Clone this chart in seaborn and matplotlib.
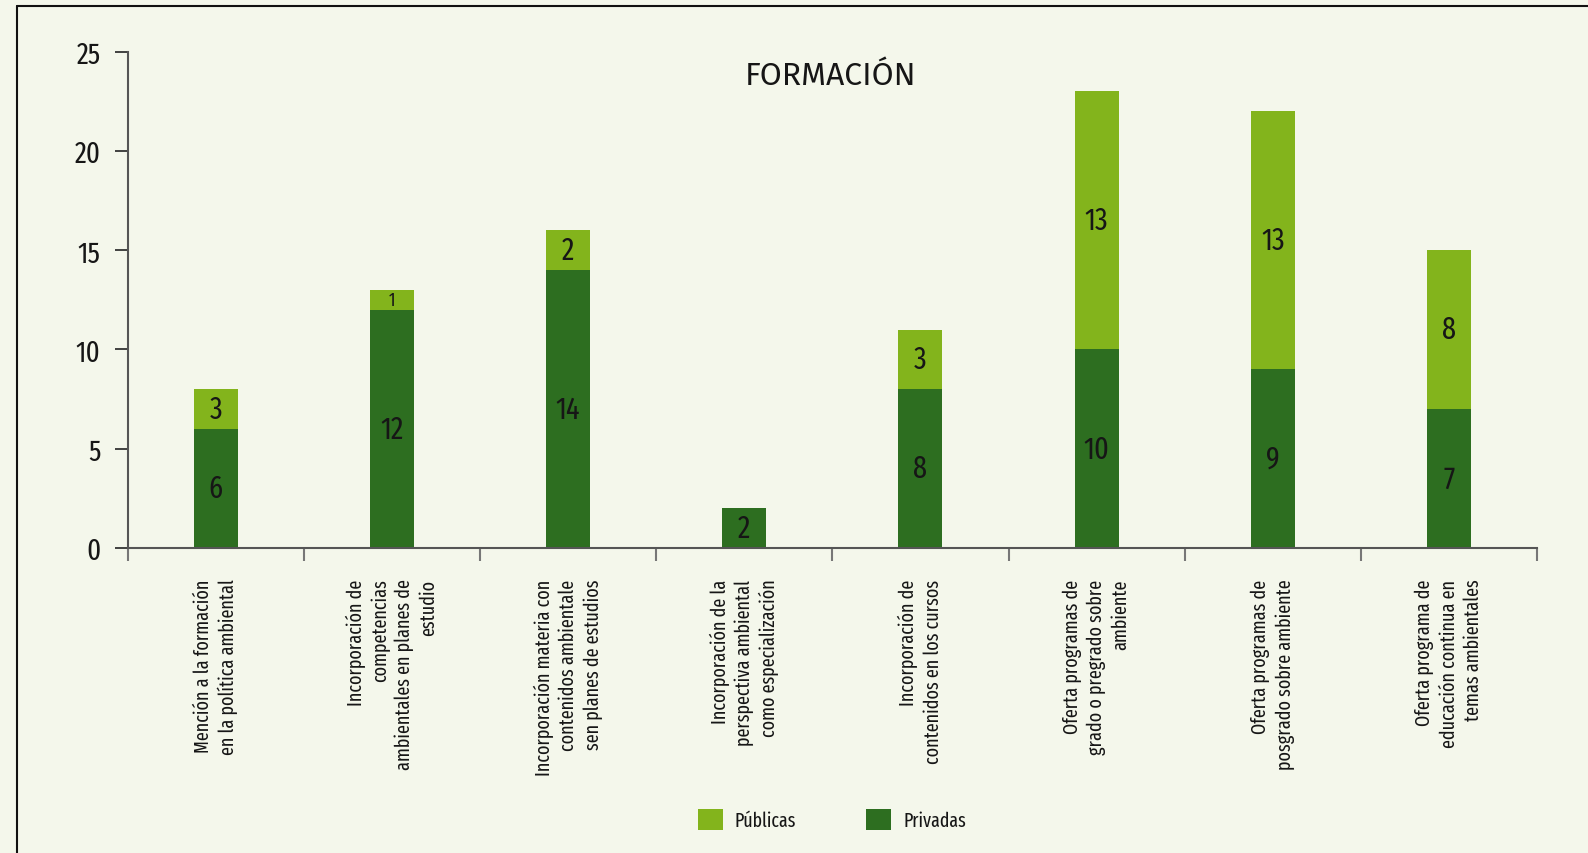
import matplotlib
matplotlib.use("Agg")
import matplotlib.pyplot as plt
import seaborn as sns
import pandas as pd
from matplotlib.patches import Patch
from matplotlib.lines import Line2D

categories = [
    "Mención a la formación\nen la política ambiental",
    "Incorporación de\ncompetencias\nambientales en planes de\nestudio",
    "Incorporación materia con\ncontenidos ambientale\nsen planes de estudios",
    "Incorporación de la\nperspectiva ambiental\ncomo especialización",
    "Incorporación de\ncontenidos en los cursos",
    "Oferta programas de\ngrado o pregrado sobre\nambiente",
    "Oferta programas de\nposgrado sobre ambiente",
    "Oferta programa de\neducación continua en\ntemas ambientales",
]
privadas = [6, 12, 14, 2, 8, 10, 9, 7]
publicas = [2, 1, 2, 0, 3, 13, 13, 8]          # drawn heights
publicas_labels = ["3", "1", "2", "", "3", "13", "13", "8"]
privadas_labels = ["6", "12", "14", "2", "8", "10", "9", "7"]
yticks = [0, 5, 10, 15, 20, 25]

BG = "#f4f7eb"
DARK = "#2d6e20"
LIGHT = "#83b41c"
TXT = "#161616"
COND = ["Fira Sans Extra Condensed", "Fira Sans Condensed", "DejaVu Sans"]

sns.set_theme(style="white")
plt.rcParams["font.family"] = COND

df = pd.DataFrame({
    "cat": categories,
    "priv": privadas,
    "total": [a + b for a, b in zip(privadas, publicas)],
})

fig = plt.figure(figsize=(15.88, 8.54), dpi=100, facecolor=BG)
ax = fig.add_axes([127.7 / 1588, 1 - 549 / 854, (1537 - 127.7) / 1588, (549 - 52.7) / 854])
ax.set_facecolor(BG)

sns.barplot(data=df, x="cat", y="total", color=LIGHT, width=0.25, ax=ax,
            saturation=1, linewidth=0)
sns.barplot(data=df, x="cat", y="priv", color=DARK, width=0.25, ax=ax,
            saturation=1, linewidth=0)

ax.set_xlim(-0.5, 7.5)
ax.set_ylim(0, 25)
ax.set_yticks(yticks)
ax.set_yticklabels([str(v) for v in yticks], fontsize=21, color=TXT)
ax.set_xlabel("")
ax.set_ylabel("")

for s in ["top", "right"]:
    ax.spines[s].set_visible(False)
for s in ["left", "bottom"]:
    ax.spines[s].set_color("#555555")
    ax.spines[s].set_linewidth(1.5)

ax.tick_params(axis="y", direction="out", length=9.5, width=1.3, color="#333333", pad=10, left=True)
ax.set_xticks(range(len(categories)))
ax.set_xticklabels(categories, rotation=90, fontsize=14.2, color=TXT,
                   ha="center", va="top", multialignment="right", linespacing=1.3)
ax.tick_params(axis="x", which="major", length=0, pad=22, bottom=True)
ax.set_xticks([i - 0.5 for i in range(len(categories) + 1)], minor=True)
ax.tick_params(axis="x", which="minor", direction="out", length=9, width=1.5,
               color="#777777", bottom=True)

# value labels
for i in range(len(categories)):
    p = privadas[i]
    ax.text(i, p / 2, privadas_labels[i], ha="center", va="center", fontsize=22, color=TXT)
    if publicas_labels[i]:
        fs = 13 if publicas[i] <= 1 else 22
        ax.text(i, p + publicas[i] / 2, publicas_labels[i], ha="center", va="center",
                fontsize=fs, color=TXT)

fig.text(831 / 1588, 1 - 76 / 854, "FORMACIÓN", ha="center", va="center",
         fontsize=23, color=TXT, family=["Fira Sans", "DejaVu Sans"])

handles = [Patch(facecolor=LIGHT, edgecolor="none", label="Públicas"),
           Patch(facecolor=DARK, edgecolor="none", label="Privadas")]
fig.legend(handles=handles, loc="center", bbox_to_anchor=(832 / 1588, 1 - 821 / 854),
           ncol=2, frameon=False, fontsize=14, handlelength=1.29, handleheight=1.29,
           handletextpad=0.6, columnspacing=3.6, labelcolor=TXT)

# outer frame
fig.add_artist(Line2D([17 / 1588, 17 / 1588], [0, 1 - 7 / 854], transform=fig.transFigure,
                      color="#111111", linewidth=1.5))
fig.add_artist(Line2D([17 / 1588, 1], [1 - 7 / 854, 1 - 7 / 854], transform=fig.transFigure,
                      color="#111111", linewidth=1.5))

fig.savefig("out.png", dpi=100, facecolor=BG)
